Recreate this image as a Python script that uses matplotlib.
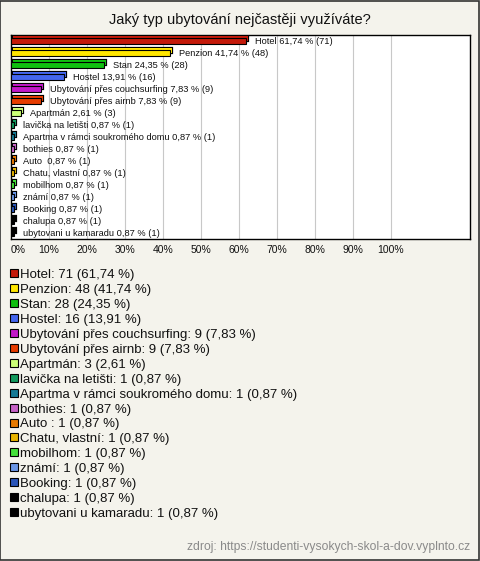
import matplotlib
matplotlib.use("Agg")
import matplotlib.pyplot as plt
import matplotlib.patheffects as pe
from matplotlib.patches import Rectangle

plt.rcParams['font.family'] = ['Liberation Sans', 'DejaVu Sans']

title = "Jaký typ ubytování nejčastěji využíváte?"
categories = ["Hotel", "Penzion", "Stan", "Hostel", "Ubytování přes couchsurfing",
              "Ubytování přes airnb", "Apartmán", "lavička na letišti",
              "Apartma v rámci soukromého domu", "bothies", "Auto ", "Chatu, vlastní",
              "mobilhom", "známí", "Booking", "chalupa", "ubytovani u kamaradu"]
counts = [71, 48, 28, 16, 9, 9, 3, 1, 1, 1, 1, 1, 1, 1, 1, 1, 1]
percents = [61.74, 41.74, 24.35, 13.91, 7.83, 7.83, 2.61, 0.87, 0.87, 0.87, 0.87,
            0.87, 0.87, 0.87, 0.87, 0.87, 0.87]
colors = ["#C41A0A", "#FFE600", "#0FC00F", "#4466EE", "#C218C8", "#E63C00",
          "#CCFF77", "#139A5E", "#157A94", "#C663C6", "#E87A00", "#E8B400",
          "#44E03A", "#6A96E6", "#2A55B8", "#000000", "#000000"]
xticks = [0, 10, 20, 30, 40, 50, 60, 70, 80, 90, 100]
source = "zdroj: https://studenti-vysokych-skol-a-dov.vyplnto.cz"

W, H = 480, 561
fig = plt.figure(figsize=(W / 100, H / 100), dpi=100)
bg = "#F4F3EC"
fig.patch.set_facecolor(bg)
fig.add_artist(Rectangle((0.001, 0.001), 0.997, 0.997, transform=fig.transFigure,
                         fill=False, edgecolor="#333333", linewidth=1.2))

fig.text(0.5, 1 - 20 / H, title, ha="center", va="center", fontsize=10.5, color="#111111")

ax = fig.add_axes([11 / W, 1 - 239 / H, (470 - 11) / W, (239 - 35) / H])
ax.set_facecolor("white")
n = len(categories)
ys = list(range(n))
ax.set_xlim(0, (470 - 11) / 380 * 100)
ax.set_ylim(n - 0.5, -0.5)
for t in xticks[1:]:
    ax.axvline(t, color="#C8C8C8", linewidth=0.8, zorder=0)

bars = ax.barh(ys, percents, height=0.42, color=colors, edgecolor="black",
               linewidth=0.8, zorder=3)
for b, c in zip(bars, colors):
    b.set_path_effects([pe.Stroke(offset=(1.5, 1.5), linewidth=1.6, foreground="black"),
                        pe.SimplePatchShadow(offset=(1.5, 1.5), shadow_rgbFace=c, alpha=1.0),
                        pe.Normal()])
for y, p, cnt, cat in zip(ys, percents, counts, categories):
    ax.text(p + 2.4, y, f"{cat} {p:.2f} % ({cnt})".replace(".", ","), va="center",
            ha="left", fontsize=6.65, color="#111111", zorder=4)

ax.set_yticks([])
ax.set_xticks(xticks)
ax.set_xticklabels([f"{t}%" for t in xticks], fontsize=7.5, color="#111111")
ax.tick_params(axis="x", length=0, pad=4)
ax.get_xticklabels()[0].set_horizontalalignment("left")
for s in ax.spines.values():
    s.set_color("black")
    s.set_linewidth(1.0)

# legend
base0 = 278
dy = 14.95
for i, (cat, cnt, p, c) in enumerate(zip(categories, counts, percents, colors)):
    yb = 1 - (base0 + i * dy) / H
    fig.add_artist(Rectangle((10 / W, yb + 1 / H), 8 / W, 8 / H, transform=fig.transFigure,
                             facecolor=c, edgecolor="black", linewidth=0.8))
    fig.text(20 / W, yb, f"{cat}: {cnt} ({p:.2f} %)".replace(".", ","), ha="left",
             va="baseline", fontsize=9.5, color="#111111")

fig.text(470 / W, 1 - 547 / H, source, ha="right", va="center", fontsize=8.7, color="#8A8A8A")

fig.savefig("out.png", dpi=100, facecolor=bg)
